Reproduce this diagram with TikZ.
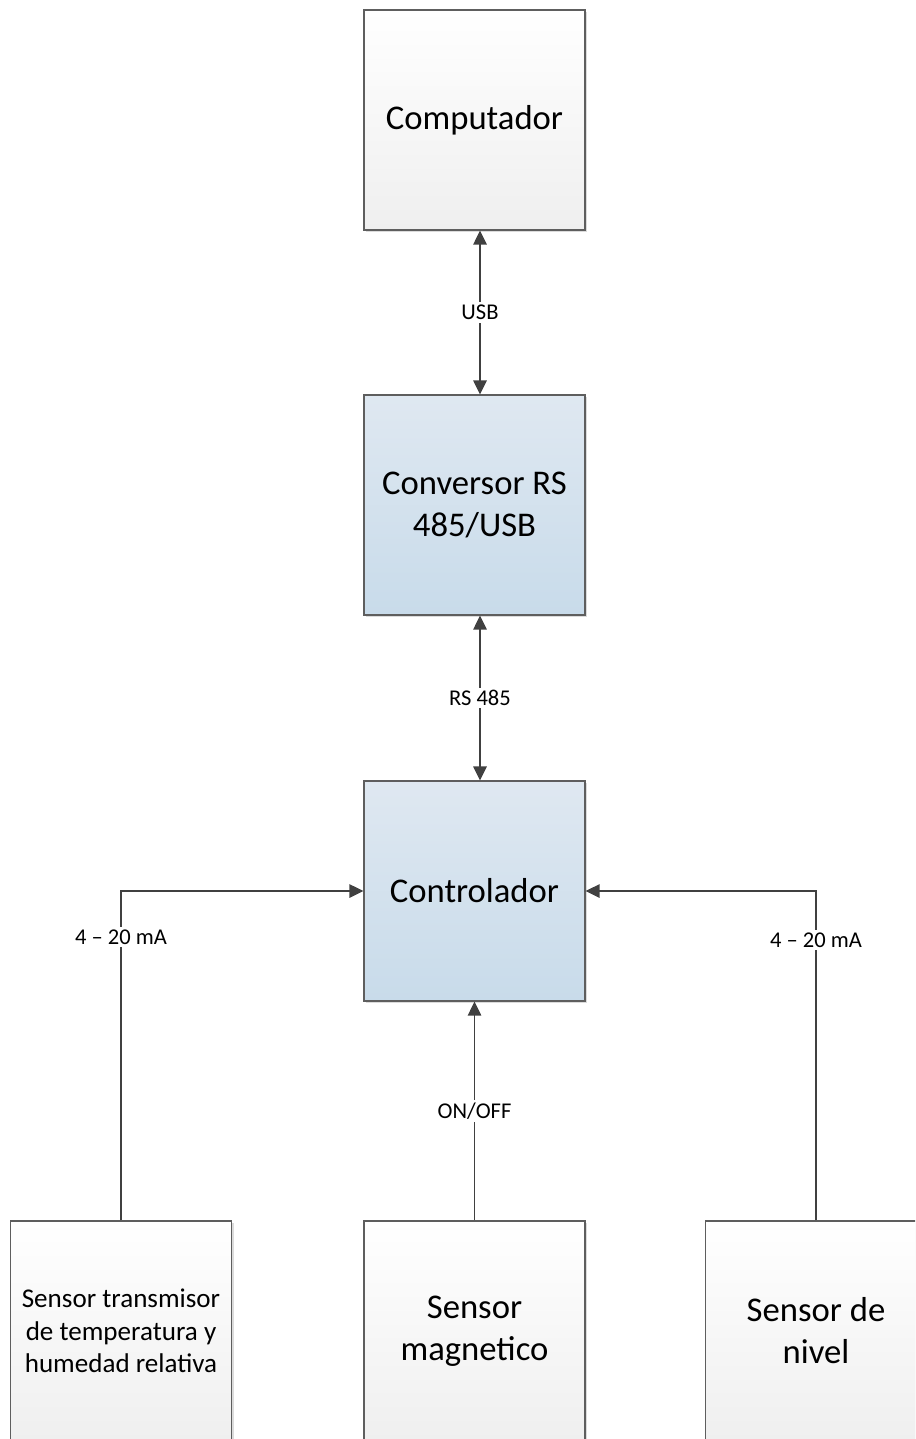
\documentclass[tikz,border=0pt]{standalone}
\usepackage{fontspec}
\setmainfont{Carlito}
\usetikzlibrary{arrows.meta,calc,shadows}
\definecolor{boxline}{HTML}{5E5E5E}
\definecolor{wireclr}{HTML}{404040}
\definecolor{blueTop}{HTML}{DFE8F1}
\definecolor{blueBot}{HTML}{C8DBEA}
\definecolor{grayBot}{HTML}{EFEFEF}
\tikzset{
  blk/.style={draw=boxline,line width=.9pt,minimum width=165.75pt,
    minimum height=165pt,inner sep=2pt,align=center,
    font=\fontsize{26}{31.5}\selectfont,
    drop shadow={shadow xshift=1.8pt,shadow yshift=-1.8pt,fill=black!14,
      opacity=1}},
  grayblk/.style={blk,top color=white,bottom color=grayBot},
  blueblk/.style={blk,top color=blueTop,bottom color=blueBot},
  wire/.style={draw=wireclr,line width=1.4pt},
  lbl/.style={fill=white,inner sep=2pt,font=\fontsize{16.9}{20}\selectfont}
}
\begin{document}
\begin{tikzpicture}[x=.75pt,y=-.75pt,>={Triangle[length=10.5pt,width=10pt]}]
  \clip (0,0) rectangle (915,1439);
  % blocks
  \node[grayblk] (comp) at (474.5,120) {Computador};
  \node[blueblk] (conv) at (474.5,505) {Conversor RS\\485/USB};
  \node[blueblk] (ctrl) at (474.5,891) {Controlador};
  \node[grayblk,font=\fontsize{20.3}{24.4}\selectfont] (sth) at (121,1331)
    {Sensor transmisor\\de temperatura y\\humedad relativa};
  \node[grayblk] (smag) at (474.5,1331) {Sensor\\magnetico};
  \node[grayblk] (sniv) at (816,1331) {Sensor de\\nivel};
  % links
  \draw[wire,<->] ($(comp.south)+(5.5,0)$) -- ($(conv.north)+(5.5,0)$)
    node[midway,lbl] {USB};
  \draw[wire,<->] ($(conv.south)+(5.5,0)$) -- ($(ctrl.north)+(5.5,0)$)
    node[midway,lbl] {RS 485};
  \draw[wire,->] (smag.north) -- (ctrl.south) node[midway,lbl] {ON/OFF};
  \draw[wire,->] (sth.north) |- (ctrl.west) node[pos=.43,lbl] {4 -- 20 mA};
  \draw[wire,->] (sniv.north) |- (ctrl.east) node[pos=.425,lbl] {4 -- 20 mA};
\end{tikzpicture}
\end{document}
